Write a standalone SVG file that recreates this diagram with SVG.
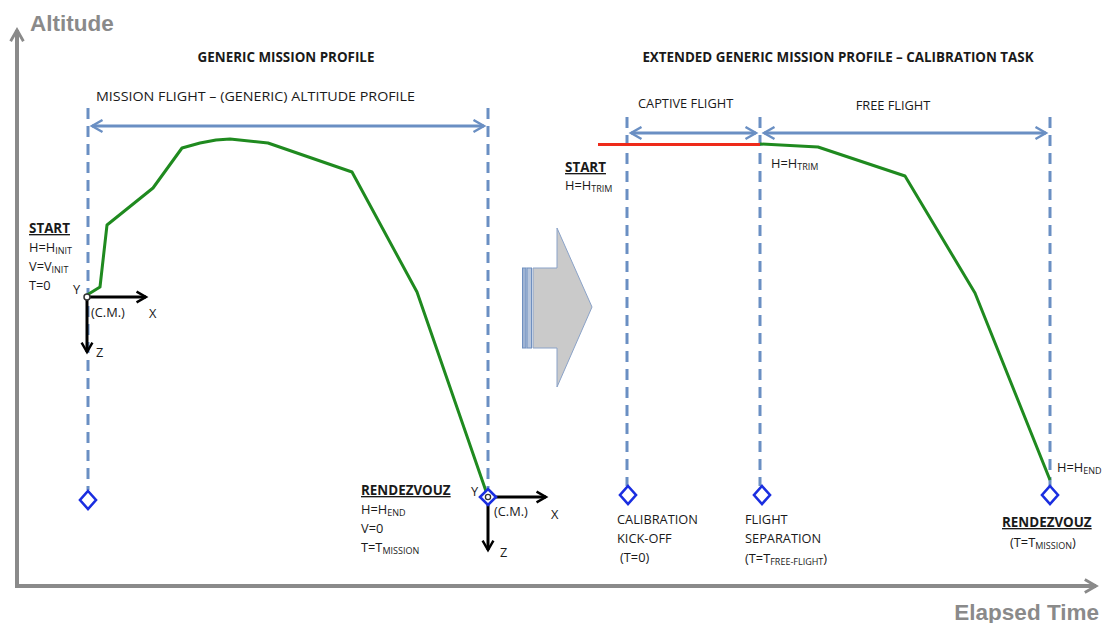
<svg xmlns="http://www.w3.org/2000/svg" width="1102" height="623" viewBox="0 0 1102 623">
<defs>
<style>
text{font-family:"Open Sans","Liberation Sans",sans-serif;fill:#1a1a1a;}
.t{font-size:12.8px;}
.b{font-size:13.4px;font-weight:bold;}
.u{text-decoration:underline;}
.sub{font-size:9px;}
.ax{font-family:"Liberation Sans",Arial,sans-serif;font-weight:bold;font-size:22.5px;fill:#8a8a8a;}
.dash{stroke:#6a8fc3;stroke-width:3;stroke-dasharray:11,7;fill:none;}
.span{stroke:#6a8fc3;stroke-width:3;fill:none;}
.dia{fill:#fff;stroke:#1a2ee0;stroke-width:2.6;}
.curve{fill:none;stroke:#1f8a1f;stroke-width:3;stroke-linejoin:round;}
.blk{stroke:#000;stroke-width:3;fill:none;}
</style>
<marker id="ah" viewBox="0 0 10 10" refX="8" refY="5" markerWidth="5" markerHeight="5" orient="auto-start-reverse" markerUnits="strokeWidth">
<path d="M1,1 L8,5 L1,9" fill="none" stroke="#6a8fc3" stroke-width="1.6"/>
</marker>
<marker id="bk" viewBox="0 0 10 10" refX="8" refY="5" markerWidth="4.5" markerHeight="4.5" orient="auto" markerUnits="strokeWidth">
<path d="M1,1 L8,5 L1,9" fill="none" stroke="#000" stroke-width="1.8"/>
</marker>
<marker id="gy" viewBox="0 0 10 10" refX="8" refY="5" markerWidth="4" markerHeight="4" orient="auto" markerUnits="strokeWidth">
<path d="M1,1 L8,5 L1,9" fill="none" stroke="#8a8a8a" stroke-width="1.8"/>
</marker>
</defs>
<rect width="1102" height="623" fill="#fff"/>

<g id="axes">
<line x1="17" y1="586" x2="17" y2="30" stroke="#8a8a8a" stroke-width="4" marker-end="url(#gy)"/>
<line x1="15" y1="586" x2="1096" y2="586" stroke="#8a8a8a" stroke-width="4" marker-end="url(#gy)"/>
<text class="ax" x="30" y="31">Altitude</text>
<text class="ax" x="1099" y="620" text-anchor="end">Elapsed Time</text>
</g>

<g id="titles">
<text class="b" x="286" y="62" text-anchor="middle">GENERIC  MISSION  PROFILE</text>
<text class="b" x="838" y="62" text-anchor="middle">EXTENDED  GENERIC  MISSION  PROFILE – CALIBRATION  TASK</text>
</g>

<g id="connectors">
<line class="dash" x1="88" y1="108" x2="88" y2="490"/>
<line class="dash" x1="488" y1="108" x2="488" y2="488"/>
<line class="dash" x1="627" y1="117" x2="627" y2="486"/>
<line class="dash" x1="760" y1="117" x2="760" y2="486"/>
<line class="dash" x1="1050" y1="117" x2="1050" y2="486"/>
<line class="span" x1="92" y1="126" x2="484" y2="126" marker-start="url(#ah)" marker-end="url(#ah)"/>
<line class="span" x1="631" y1="133" x2="756" y2="133" marker-start="url(#ah)" marker-end="url(#ah)"/>
<line class="span" x1="764" y1="133" x2="1046" y2="133" marker-start="url(#ah)" marker-end="url(#ah)"/>
<line x1="598" y1="144.5" x2="760" y2="144.5" stroke="#ee2a1a" stroke-width="3"/>
<polyline class="curve" points="87,295 100,287 107,225 153,188 182,148 200,143 216,140 230,139 268,143 352,172 417,292 488,497"/>
<polyline class="curve" points="760,144 818,147 905,176 975,293 1050,480"/>
</g>

<g id="left-profile">
<text class="t" x="96" y="101" textLength="319" lengthAdjust="spacingAndGlyphs">MISSION FLIGHT – (GENERIC) ALTITUDE  PROFILE</text>
<text class="b u" x="29" y="233">START</text>
<text class="t" x="29" y="252">H=H<tspan class="sub" dy="2">INIT</tspan></text>
<text class="t" x="29" y="271">V=V<tspan class="sub" dy="2">INIT</tspan></text>
<text class="t" x="29" y="290">T=0</text>
</g>

<g id="start-frame">
<line class="blk" x1="87" y1="297" x2="146" y2="297" marker-end="url(#bk)"/>
<line class="blk" x1="87" y1="297" x2="87" y2="352" marker-end="url(#bk)"/>
<circle cx="87" cy="297" r="3" fill="#fff" stroke="#333" stroke-width="1.5"/>
<text class="t" x="73" y="294">Y</text>
<text class="t" x="91" y="317">(C.M.)</text>
<text class="t" x="149" y="318">X</text>
<text class="t" x="96" y="357">Z</text>
</g>

<g id="diamond-left-start">
<polygon class="dia" points="88,491 96,500 88,509 80,500"/>
</g>

<g id="rendezvous-left">
<text class="b u" x="361" y="495">RENDEZVOUZ</text>
<text class="t" x="361" y="514">H=H<tspan class="sub" dy="2">END</tspan></text>
<text class="t" x="361" y="533">V=0</text>
<text class="t" x="361" y="552">T=T<tspan class="sub" dy="2">MISSION</tspan></text>
<line class="blk" x1="488" y1="497" x2="546" y2="497" marker-end="url(#bk)"/>
<line class="blk" x1="488" y1="497" x2="488" y2="550" marker-end="url(#bk)"/>
<polygon class="dia" points="488,489 496,497 488,505 480,497"/>
<circle cx="488" cy="497" r="2.6" fill="#fff" stroke="#333" stroke-width="1.3"/>
<text class="t" x="471" y="496">Y</text>
<text class="t" x="494" y="516">(C.M.)</text>
<text class="t" x="551" y="519">X</text>
<text class="t" x="500" y="557">Z</text>
</g>

<g id="big-arrow">
<rect x="522.5" y="268" width="3.5" height="80" fill="#9fb4d4" stroke="#6f8fbf" stroke-width="1"/>
<rect x="527" y="268" width="4.5" height="80" fill="#b8c6dc" stroke="#6f8fbf" stroke-width="1"/>
<polygon points="533,268 557,268 557,228 592,307 557,387 557,348 533,348" fill="#cacaca" stroke="#8aa2c8" stroke-width="1"/>
</g>

<g id="right-start">
<text class="b u" x="565" y="172">START</text>
<text class="t" x="565" y="190">H=H<tspan class="sub" dy="2">TRIM</tspan></text>
<text class="t" x="771" y="168">H=H<tspan class="sub" dy="2">TRIM</tspan></text>
<text class="t" x="638" y="108">CAPTIVE FLIGHT</text>
<text class="t" x="893" y="110" text-anchor="middle">FREE FLIGHT</text>
</g>

<g id="calibration-kickoff">
<polygon class="dia" points="628,486 636,495 628,504 620,495"/>
<text class="t" x="617" y="524">CALIBRATION</text>
<text class="t" x="617" y="543">KICK-OFF</text>
<text class="t" x="620" y="562">(T=0)</text>
</g>

<g id="flight-separation">
<polygon class="dia" points="762,486 770,495 762,504 754,495"/>
<text class="t" x="745" y="524">FLIGHT</text>
<text class="t" x="745" y="543">SEPARATION</text>
<text class="t" x="745" y="563">(T=T<tspan class="sub" dy="2">FREE-FLIGHT</tspan><tspan dy="-2">)</tspan></text>
</g>

<g id="rendezvous-right">
<polygon class="dia" points="1050,486 1058,495 1050,504 1042,495"/>
<text class="t" x="1057" y="472">H=H<tspan class="sub" dy="2">END</tspan></text>
<text class="b u" x="1002" y="527">RENDEZVOUZ</text>
<text class="t" x="1010" y="547">(T=T<tspan class="sub" dy="2">MISSION</tspan><tspan dy="-2">)</tspan></text>
</g>
</svg>
